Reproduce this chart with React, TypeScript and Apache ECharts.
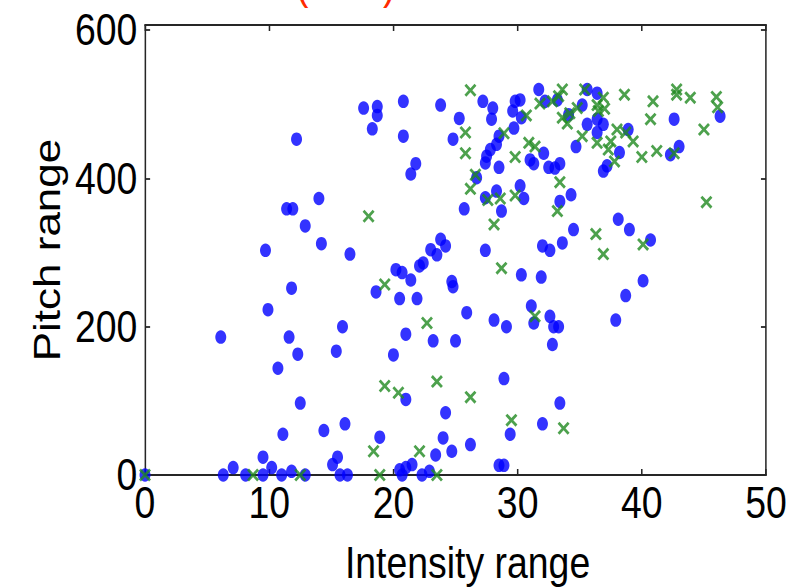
import React, { useEffect, useRef } from "react";
import * as echarts from "echarts";

// Axis ticks
const xTicks = [0, 10, 20, 30, 40, 50];
const yTicks = [0, 200, 400, 600];

// Class 1 (blue dots): [intensity range, pitch range]
const classOne: [number, number][] = [
  [0, 0], [6.1, 186], [6.3, 0], [7.1, 10], [8.1, 0], [9.5, 24], [9.5, 0], [9.7, 303],
  [9.9, 223], [10.2, 10], [10.7, 144], [11.0, 0], [11.1, 55], [11.4, 359], [11.6, 186],
  [11.8, 5], [11.8, 252], [11.9, 359], [12.2, 453], [12.3, 163], [12.5, 97], [12.9, 0],
  [12.9, 336], [14.0, 373], [14.2, 312], [14.4, 60], [15.1, 14], [15.4, 167], [15.5, 24],
  [15.7, 0], [15.9, 200], [16.1, 69], [16.3, 0], [16.5, 298], [17.6, 495], [18.3, 467],
  [18.6, 247], [18.7, 497], [18.7, 485], [18.9, 51], [20.0, 162], [20.2, 277], [20.5, 7],
  [20.5, 238], [20.7, 0], [20.7, 273], [20.8, 504], [20.8, 457], [21.0, 190], [21.0, 102],
  [21.0, 10], [21.4, 406], [21.5, 14], [21.4, 263], [21.8, 420], [21.9, 238], [22.1, 282],
  [22.3, 0], [22.4, 286], [22.9, 5], [23.0, 304], [23.2, 181], [23.4, 27], [23.5, 297],
  [23.8, 318], [23.8, 499], [24.0, 50], [24.2, 309], [24.2, 84], [24.7, 261], [24.7, 32],
  [24.8, 254], [24.8, 453], [25.0, 181], [25.3, 481], [25.7, 359], [25.9, 219], [26.2, 41],
  [26.7, 401], [27.2, 504], [27.4, 421], [27.4, 374], [27.4, 303], [27.5, 430], [27.8, 439],
  [27.9, 480], [28.0, 495], [28.1, 209], [28.3, 446], [28.3, 383], [28.5, 457], [28.5, 415],
  [28.5, 13], [28.7, 356], [28.9, 13], [28.9, 130], [29.1, 200], [29.4, 55], [29.6, 491],
  [29.7, 468], [29.8, 504], [30.2, 390], [30.2, 506], [30.3, 270], [30.3, 482], [30.5, 373],
  [31.0, 425], [31.1, 228], [31.3, 205], [31.3, 420], [31.7, 520], [31.9, 267], [32.0, 309],
  [32.0, 69], [32.1, 434], [32.2, 504], [32.5, 415], [32.6, 214], [32.6, 303], [32.8, 176],
  [32.9, 200], [33.0, 414], [33.2, 506], [33.3, 200], [33.4, 420], [33.4, 369], [33.4, 97],
  [33.6, 313], [34.1, 486], [34.3, 378], [34.5, 331], [34.7, 443], [35.2, 499], [35.6, 520],
  [35.6, 473], [36.4, 480], [36.4, 515], [36.4, 462], [36.9, 473], [36.9, 410], [37.2, 417],
  [37.9, 209], [38.1, 345], [38.2, 435], [38.7, 242], [38.9, 466], [39.0, 331], [40.1, 262],
  [40.7, 317], [42.3, 432], [42.6, 480], [43.0, 443], [46.3, 484],
];

// Class 2 (green crosses): [intensity range, pitch range]
const classTwo: [number, number][] = [
  [0, 0], [8.7, 0], [12.5, 0], [18.0, 349], [18.4, 32], [18.9, 0], [19.3, 257], [19.3, 120],
  [20.4, 111], [22.1, 32], [22.7, 205], [23.5, 126], [23.5, 0], [25.8, 462], [25.8, 434],
  [26.2, 519], [26.2, 386], [26.2, 105], [26.6, 405], [27.6, 371], [28.1, 338], [28.6, 373],
  [28.7, 279], [28.9, 461], [29.5, 74], [29.8, 429], [29.8, 377], [30.7, 485], [30.9, 448],
  [31.4, 443], [31.4, 214], [31.8, 501], [32.8, 504], [33.2, 356], [33.3, 511], [33.4, 395],
  [33.6, 520], [33.6, 482], [33.7, 63], [34.0, 474], [34.2, 488], [34.8, 495], [35.2, 457],
  [35.4, 520], [36.3, 325], [36.4, 448], [36.5, 491], [36.4, 499], [36.9, 298], [36.9, 509],
  [37.0, 494], [37.3, 439], [37.5, 450], [37.8, 423], [38.0, 466], [38.6, 513], [38.7, 462],
  [39.3, 450], [40.0, 429], [40.1, 311], [40.7, 480], [40.9, 504], [41.2, 437], [42.6, 434],
  [42.8, 520], [42.8, 513], [43.9, 509], [45.0, 466], [45.2, 368], [46.0, 510], [46.1, 496],
];

const FONT = "'Liberation Sans', Arial, sans-serif";
const AXIS_COLOR = "#262626";
const CROSS =
  "path://M0,1.6L1.6,0L5,3.4L8.4,0L10,1.6L6.6,5L10,8.4L8.4,10L5,6.6L1.6,10L0,8.4L3.4,5Z";

// The figure is laid out on a wider canvas and condensed horizontally,
// which gives the narrow, upright look of the lettering and markers.
const SQUEEZE = 0.85;
const VIEW_W = 805;
const VIEW_H = 587;
const CANVAS_W = Math.round(VIEW_W / SQUEEZE);
const sx = (px: number) => px / SQUEEZE;

export default function App() {
  const ref = useRef<HTMLDivElement>(null);

  useEffect(() => {
    if (!ref.current) return;
    const chart = echarts.init(ref.current, null, { renderer: "svg" });

    const xMin = xTicks[0];
    const xMax = xTicks[xTicks.length - 1];
    const xStep = xTicks[1] - xTicks[0];
    const yMin = yTicks[0];
    const yStep = yTicks[1] - yTicks[0];

    const line = { show: true, onZero: false, lineStyle: { color: AXIS_COLOR, width: 1.8 } };
    const tick = { show: true, inside: true, length: 6, lineStyle: { color: AXIS_COLOR, width: 1.8 } };
    const label = { color: "#000", fontFamily: FONT, fontSize: 44 };

    chart.setOption({
      animation: false,
      backgroundColor: "#fff",
      grid: {
        left: sx(145),
        right: CANVAS_W - sx(766),
        top: 25,
        bottom: 112,
        containLabel: false,
        outerBoundsMode: "none",
      },
      graphic: [
        { type: "text", left: sx(296), top: -38, style: { text: "(", fill: "#ff2a00", font: `44px ${FONT}` } },
        { type: "text", left: sx(383), top: -38, style: { text: ")", fill: "#ff2a00", font: `44px ${FONT}` } },
      ],
      xAxis: [
        {
          type: "value",
          position: "bottom",
          min: xMin,
          max: xMax,
          interval: xStep,
          axisLine: line,
          axisTick: tick,
          splitLine: { show: false },
          axisLabel: { ...label, margin: 6 },
          name: "Intensity range",
          nameLocation: "middle",
          nameGap: 66,
          nameTextStyle: {
            color: "#000",
            fontFamily: FONT,
            fontSize: 44,
            padding: [0, 0, 0, sx(24)],
          },
        },
        {
          type: "value",
          position: "top",
          min: xMin,
          max: xMax,
          interval: xStep,
          axisLine: line,
          axisTick: tick,
          splitLine: { show: false },
          axisLabel: { show: false },
        },
      ],
      yAxis: [
        {
          type: "value",
          position: "left",
          min: yMin,
          max: 607,
          interval: yStep,
          axisLine: line,
          axisTick: tick,
          splitLine: { show: false },
          axisLabel: { ...label, margin: 9, showMaxLabel: false },
          name: "Pitch range",
          nameLocation: "middle",
          nameGap: 90,
          nameRotate: 90,
          nameTextStyle: { color: "#000", fontFamily: FONT, fontSize: 44 },
        },
        {
          type: "value",
          position: "right",
          min: yMin,
          max: 607,
          interval: yStep,
          axisLine: line,
          axisTick: tick,
          splitLine: { show: false },
          axisLabel: { show: false },
        },
      ],
      series: [
        {
          name: "class 1",
          type: "scatter",
          data: classOne,
          symbol: "circle",
          symbolSize: [sx(11), 13.5],
          clip: false,
          itemStyle: { color: "#0000ff" },
          z: 3,
        },
        {
          name: "class 2",
          type: "scatter",
          data: classTwo,
          symbol: CROSS,
          symbolSize: [sx(12), 13],
          clip: false,
          itemStyle: { color: "#208a20" },
          z: 4,
        },
      ],
    });

    return () => chart.dispose();
  }, []);

  return (
    <div
      ref={ref}
      style={{
        position: "fixed",
        left: 0,
        top: 0,
        width: CANVAS_W,
        height: VIEW_H,
        background: "#fff",
        transform: `scaleX(${VIEW_W / CANVAS_W})`,
        transformOrigin: "0 0",
      }}
    />
  );
}
